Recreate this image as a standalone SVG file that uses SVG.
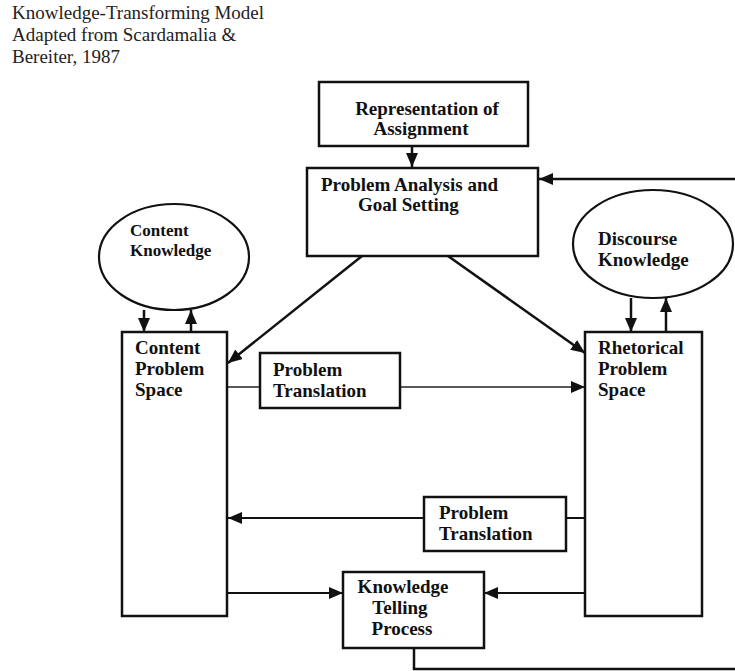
<svg xmlns="http://www.w3.org/2000/svg" width="735" height="671" viewBox="0 0 735 671">
  <style>
    .title { font-family: "Liberation Serif", "Times New Roman", serif; font-size: 19px; fill: #222; }
    .lbl { font-family: "Liberation Serif", "Times New Roman", serif; font-size: 19px; font-weight: bold; fill: #111; }
    .lbl-sm { font-size: 17px; }
    .box { fill: #fff; stroke: #111; stroke-width: 2.5; }
    .oval { fill: #fff; stroke: #111; stroke-width: 2.2; }
    .wire { fill: none; stroke: #111; stroke-width: 2.5; }
    .wire-mid { fill: none; stroke: #111; stroke-width: 2; }
    .wire-thin { fill: none; stroke: #222; stroke-width: 1.4; }
  </style>
  <defs>
    <marker id="arrow" markerUnits="userSpaceOnUse" markerWidth="14" markerHeight="12" viewBox="0 0 14 12" refX="14" refY="6" orient="auto">
      <path d="M0,0 L14,6 L0,12 z" fill="#111"/>
    </marker>
  </defs>

  <rect width="735" height="671" fill="#fff"/>

  <!-- heading -->
  <g id="heading">
    <text class="title" x="12" y="19">Knowledge-Transforming Model</text>
    <text class="title" x="12" y="41">Adapted from Scardamalia &amp;</text>
    <text class="title" x="12" y="63">Bereiter, 1987</text>
  </g>

  <!-- connectors -->
  <g id="connectors">
    <!-- assignment to goal setting -->
    <line class="wire" x1="412" y1="146" x2="412" y2="167" marker-end="url(#arrow)"/>
    <!-- feedback loop from knowledge telling back to goal setting -->
    <path class="wire" d="M414,648 V669 H745 V179 H539" marker-end="url(#arrow)"/>
    <!-- goal setting to the two problem spaces -->
    <line class="wire" x1="362" y1="256" x2="228" y2="363" marker-end="url(#arrow)"/>
    <line class="wire" x1="448" y1="256" x2="585" y2="353" marker-end="url(#arrow)"/>
    <!-- content knowledge exchange -->
    <line class="wire" x1="144" y1="310" x2="144" y2="332" marker-end="url(#arrow)"/>
    <line class="wire" x1="191" y1="332" x2="191" y2="310" marker-end="url(#arrow)"/>
    <!-- discourse knowledge exchange -->
    <line class="wire" x1="631" y1="298" x2="631" y2="332" marker-end="url(#arrow)"/>
    <line class="wire" x1="666" y1="332" x2="666" y2="298" marker-end="url(#arrow)"/>
    <!-- content space to rhetorical space via translation -->
    <line class="wire-thin" x1="227" y1="387" x2="260" y2="387"/>
    <line class="wire-thin" x1="400" y1="387" x2="585" y2="387" marker-end="url(#arrow)"/>
    <!-- rhetorical space back to content space via translation -->
    <line class="wire-mid" x1="585" y1="518" x2="566" y2="518"/>
    <line class="wire-mid" x1="424" y1="518" x2="228" y2="518" marker-end="url(#arrow)"/>
    <!-- both spaces into knowledge telling -->
    <line class="wire-mid" x1="227" y1="593" x2="343" y2="593" marker-end="url(#arrow)"/>
    <line class="wire-mid" x1="585" y1="593" x2="484" y2="593" marker-end="url(#arrow)"/>
  </g>

  <g id="representation">
    <rect class="box" x="319" y="82" width="209" height="64"/>
    <text class="lbl" x="427" y="115" text-anchor="middle">Representation of</text>
    <text class="lbl" x="421" y="135" text-anchor="middle">Assignment</text>
  </g>

  <g id="goal-setting">
    <rect class="box" x="307" y="168" width="231" height="88"/>
    <text class="lbl" x="321" y="191">Problem Analysis and</text>
    <text class="lbl" x="358" y="211">Goal Setting</text>
  </g>

  <g id="content-knowledge">
    <ellipse class="oval" cx="174" cy="257" rx="75" ry="53"/>
    <text class="lbl lbl-sm" x="130" y="236">Content</text>
    <text class="lbl lbl-sm" x="130" y="256">Knowledge</text>
  </g>

  <g id="discourse-knowledge">
    <ellipse class="oval" cx="653" cy="244" rx="80" ry="54"/>
    <text class="lbl" x="598" y="245">Discourse</text>
    <text class="lbl" x="598" y="266">Knowledge</text>
  </g>

  <g id="content-space">
    <rect class="box" x="122" y="332" width="105" height="284"/>
    <text class="lbl" x="135" y="354">Content</text>
    <text class="lbl" x="135" y="375">Problem</text>
    <text class="lbl" x="135" y="396">Space</text>
  </g>

  <g id="rhetorical-space">
    <rect class="box" x="585" y="332" width="117" height="284"/>
    <text class="lbl" x="598" y="354">Rhetorical</text>
    <text class="lbl" x="598" y="375">Problem</text>
    <text class="lbl" x="598" y="396">Space</text>
  </g>

  <g id="translation-forward">
    <rect class="box" x="260" y="353" width="140" height="55"/>
    <text class="lbl" x="273" y="376">Problem</text>
    <text class="lbl" x="273" y="397">Translation</text>
  </g>

  <g id="translation-back">
    <rect class="box" x="424" y="497" width="142" height="54"/>
    <text class="lbl" x="439" y="519">Problem</text>
    <text class="lbl" x="439" y="540">Translation</text>
  </g>

  <g id="knowledge-telling">
    <rect class="box" x="343" y="572" width="141" height="76"/>
    <text class="lbl" x="403" y="593" text-anchor="middle">Knowledge</text>
    <text class="lbl" x="400" y="614" text-anchor="middle">Telling</text>
    <text class="lbl" x="402" y="635" text-anchor="middle">Process</text>
  </g>
</svg>
